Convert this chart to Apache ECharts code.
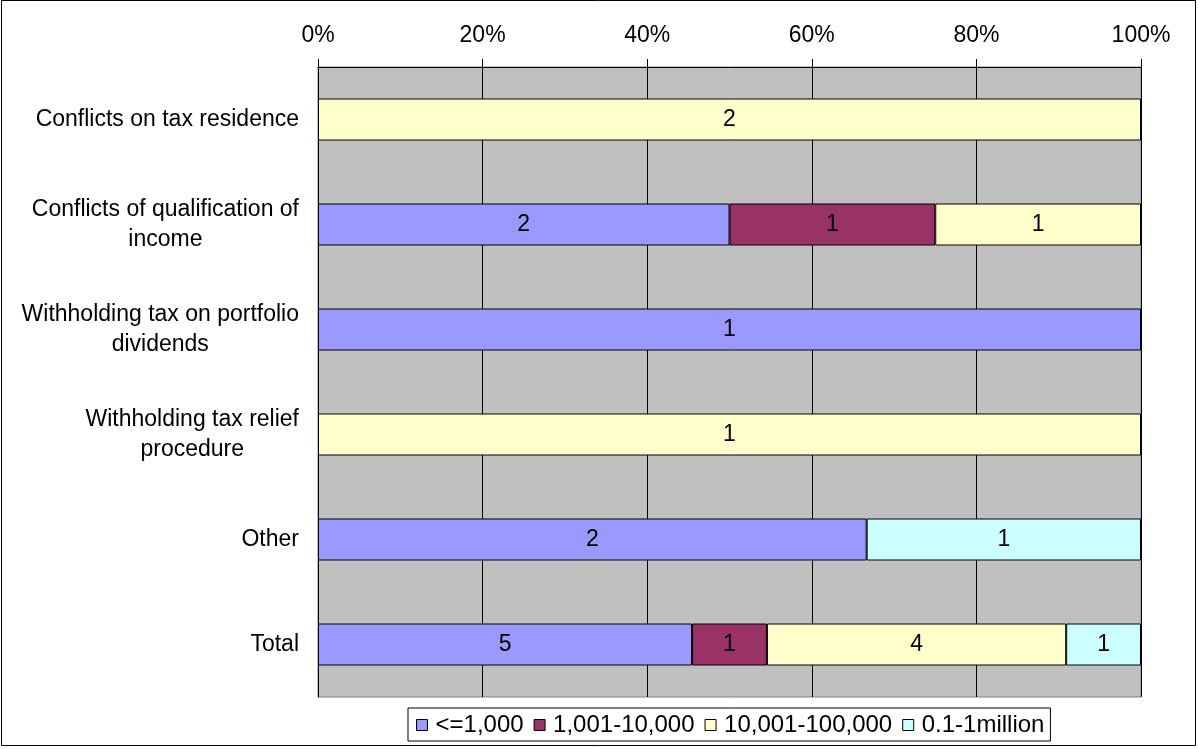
<!DOCTYPE html>
<html>
<head>
<meta charset="utf-8">
<script src="https://cdn.jsdelivr.net/npm/echarts@6/dist/echarts.min.js"></script>
<style>
  html, body { margin: 0; padding: 0; background: #fff; }
  #chart { width: 1198px; height: 749px; }
</style>
</head>
<body>
<div id="chart"></div>
<script>
const categories = [
    'Conflicts on tax residence',
    'Conflicts of qualification of\nincome',
    'Withholding tax on portfolio\ndividends',
    'Withholding tax relief\nprocedure',
    'Other',
    'Total'
];
const seriesNames = ['<=1,000', '1,001-10,000', '10,001-100,000', '0.1-1million'];
// number of cases per size class (label values)
const small = [0, 2, 1, 0, 2, 5];
const medium = [0, 1, 0, 0, 0, 1];
const large = [2, 1, 0, 1, 0, 4];
const veryLarge = [0, 0, 0, 0, 1, 1];
const xTicks = [0, 20, 40, 60, 80, 100];

const colors = ['#9999FF', '#993366', '#FFFFCC', '#CCFFFF'];
const counts = [small, medium, large, veryLarge];
const font = "'Liberation Sans', Arial, sans-serif";
const fs = 23;

// 100% stacked: share of each class in the row total
const totals = categories.map((c, i) => counts.reduce((s, arr) => s + arr[i], 0));

const chart = echarts.init(document.getElementById('chart'));

const option = {
    animation: false,
    textStyle: { fontFamily: font, color: '#000' },
    grid: {
        left: 318,
        right: 57,
        top: 67,
        bottom: 52,
        show: true,
        backgroundColor: '#C0C0C0',
        borderColor: '#808080',
        borderWidth: 1
    },
    legend: {
        left: 408,
        top: 708,
        data: seriesNames,
        icon: 'rect',
        itemWidth: 11,
        itemHeight: 11,
        itemGap: 10,
        padding: [5, 6, 4, 8],
        backgroundColor: '#fff',
        borderColor: '#000',
        borderWidth: 1,
        borderRadius: 0,
        itemStyle: { borderColor: '#000', borderWidth: 1 },
        textStyle: { fontFamily: font, fontSize: 24, color: '#000', padding: [0, 0, 0, 3] }
    },
    xAxis: {
        type: 'value',
        position: 'top',
        min: 0,
        max: 100,
        interval: 20,
        axisLine: { show: true, lineStyle: { color: '#000', width: 1 } },
        axisTick: { show: true, length: 8, lineStyle: { color: '#000' } },
        axisLabel: {
            margin: 20,
            fontSize: fs,
            color: '#000',
            fontFamily: font,
            formatter: v => xTicks.includes(v) ? v + '%' : ''
        },
        splitLine: { show: true, lineStyle: { color: '#000', width: 1 } }
    },
    yAxis: {
        type: 'category',
        inverse: true,
        data: categories,
        axisLine: { show: true, lineStyle: { color: '#000', width: 1 } },
        axisTick: { show: false },
        axisLabel: {
            margin: 19,
            align: 'right',
            fontFamily: font,
            formatter: v => v.split('\n').map(s => '{c|' + s + '}').join('\n'),
            rich: {
                c: { align: 'center', fontSize: fs, lineHeight: 30, color: '#000', fontFamily: font }
            }
        }
    },
    series: seriesNames.map((name, k) => ({
        name: name,
        type: 'bar',
        stack: 'all',
        barWidth: '40%',
        itemStyle: { color: colors[k], borderColor: '#000', borderWidth: 1 },
        label: {
            show: true,
            position: 'inside',
            fontSize: fs,
            color: '#000',
            fontFamily: font,
            formatter: p => String(counts[k][p.dataIndex])
        },
        data: counts[k].map((v, i) => v > 0 ? v / totals[i] * 100 : '-')
    })),
    graphic: [{
        type: 'rect',
        shape: { x: 1.5, y: 0.5, width: 1194, height: 745 },
        style: { fill: 'none', stroke: '#000', lineWidth: 1 },
        silent: true,
        z: 100
    }]
};

chart.setOption(option);
</script>
</body>
</html>
